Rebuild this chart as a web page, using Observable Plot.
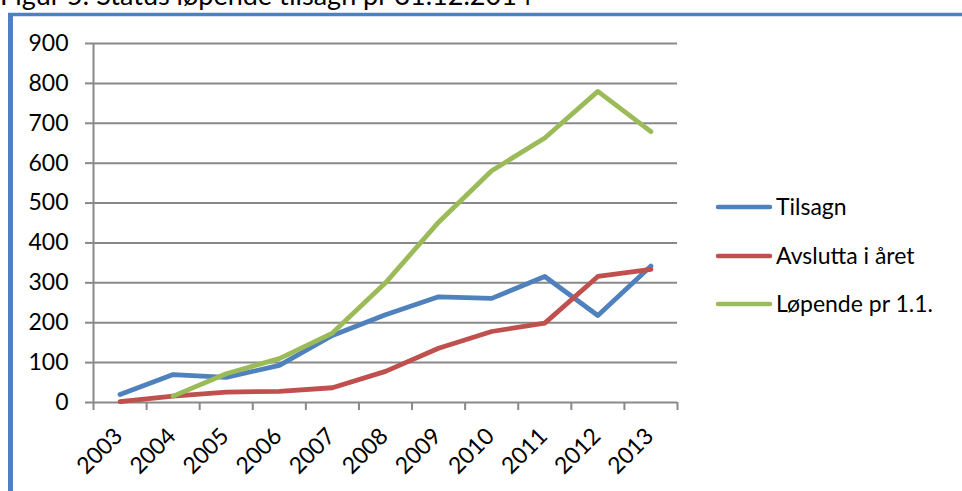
<!DOCTYPE html>
<html>
<head>
<meta charset="utf-8">
<script src="https://cdn.jsdelivr.net/npm/d3@7"></script>
<script src="https://cdn.jsdelivr.net/npm/@observablehq/plot@0.6"></script>
<style>
  html, body { margin: 0; padding: 0; background: #fff; }
  #wrap { position: relative; width: 962px; height: 491px; overflow: hidden; font-family: Lato, "Open Sans", sans-serif; }
  #chart { position: absolute; left: 0; top: 0; }
  #overlay { position: absolute; left: 0; top: 0; pointer-events: none; }
</style>
</head>
<body>
<div id="wrap">
  <div id="chart"></div>
  <svg id="overlay" width="962" height="491"></svg>
</div>
<script>
const title = "Figur 5: Status løpende tilsagn pr 31.12.2014";
const years = [2003, 2004, 2005, 2006, 2007, 2008, 2009, 2010, 2011, 2012, 2013];
const tilsagn = [20, 70, 63, 93, 168, 220, 265, 261, 316, 218, 342];
const avslutta = [2, 16, 26, 28, 37, 78, 136, 178, 199, 316, 334];
const lopende = [null, 16, 72, 110, 174, 300, 452, 581, 663, 780, 679];
const seriesNames = ["Tilsagn", "Avslutta i året", "Løpende pr 1.1."];
const seriesColors = ["#4F81BD", "#C0504D", "#9BBB59"];
const yTicks = [0, 100, 200, 300, 400, 500, 600, 700, 800, 900];

const seriesValues = [tilsagn, avslutta, lopende];
const rows = [];
seriesNames.forEach((name, si) => {
  years.forEach((yr, i) => {
    const v = seriesValues[si][i];
    if (v != null) rows.push({series: name, year: yr, value: v});
  });
});
const boundaries = years.map(y => y - 0.5).concat([years[years.length - 1] + 0.5]);
const grid = "#898989";
const fontFam = "Lato, 'Open Sans', sans-serif";

const chart = Plot.plot({
  width: 962,
  height: 491,
  marginLeft: 93,
  marginRight: 285,
  marginTop: 43,
  marginBottom: 89,
  style: {fontFamily: fontFam, fontSize: "23px", color: "#000", background: "transparent"},
  x: {type: "linear", domain: [boundaries[0], boundaries[boundaries.length - 1]]},
  y: {domain: [0, 900]},
  marks: [
    Plot.ruleY(yTicks, {stroke: grid, strokeWidth: 2}),
    Plot.axisY({ticks: yTicks, tickSize: 8, tickPadding: 17, stroke: grid, strokeWidth: 2, fontSize: 23, fill: "#000", label: null}),
    Plot.axisX({ticks: boundaries, tickSize: 8, tickFormat: () => "", stroke: grid, strokeWidth: 2, label: null}),
    Plot.ruleX([boundaries[0]], {stroke: grid, strokeWidth: 2}),
    Plot.text(years, {x: d => d, y: 0, text: d => String(d), rotate: -45, textAnchor: "end", lineAnchor: "bottom", dx: 4, dy: 35, fontSize: 23, fill: "#000"}),
    Plot.lineY(rows, {x: "year", y: "value", z: "series", stroke: "series", strokeWidth: 4.8, strokeLinejoin: "round", strokeLinecap: "round"})
  ],
  color: {domain: seriesNames, range: seriesColors}
});
document.getElementById("chart").appendChild(chart);

// overlay: frame border, title, legend
const ov = d3.select("#overlay");
ov.append("line").attr("x1", 8).attr("x2", 962).attr("y1", 14.5).attr("y2", 14.5)
  .attr("stroke", "#4F81BD").attr("stroke-width", 3.5);
ov.append("line").attr("x1", 10.5).attr("x2", 10.5).attr("y1", 13).attr("y2", 491)
  .attr("stroke", "#4F81BD").attr("stroke-width", 5);
ov.append("text").attr("x", 0).attr("y", 5).attr("font-family", fontFam).attr("font-size", 27)
  .attr("fill", "#000").text(title);

const legendY = [207, 256, 304];
seriesNames.forEach((name, i) => {
  ov.append("line").attr("x1", 718).attr("x2", 770).attr("y1", legendY[i]).attr("y2", legendY[i])
    .attr("stroke", seriesColors[i]).attr("stroke-width", 4.5).attr("stroke-linecap", "round");
  ov.append("text").attr("x", 776).attr("y", legendY[i]).attr("dy", "0.35em")
    .attr("font-family", fontFam).attr("font-size", 23).attr("fill", "#000").text(name);
});
</script>
</body>
</html>
